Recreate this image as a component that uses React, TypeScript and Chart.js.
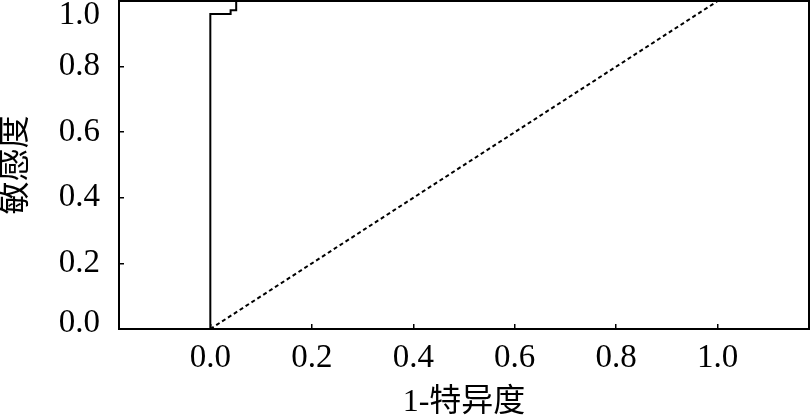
import React, { useEffect, useRef } from "react";
import { Chart, registerables } from "chart.js";

Chart.register(...registerables);

const rocFpr = [0, 0, 0.04, 0.04, 0.051, 0.051, 1];
const rocTpr = [0, 0.96, 0.96, 0.972, 0.972, 1, 1];
const refFpr = [0, 1];
const refTpr = [0, 1];
const xTicks = [0, 0.2, 0.4, 0.6, 0.8, 1.0];
const yTicks = [0, 0.2, 0.4, 0.6, 0.8, 1.0];
const xTitle = "1-特异度";
const yTitle = "敏感度";

const SERIF = "'Liberation Serif', 'Times New Roman', 'Noto Sans CJK SC', serif";

const framePlugin = {
  id: "frame",
  afterDraw(chart: any) {
    const { ctx, chartArea } = chart;
    ctx.save();
    ctx.strokeStyle = "#000";
    ctx.lineWidth = 2;
    ctx.strokeRect(chartArea.left, chartArea.top, chartArea.right - chartArea.left, chartArea.bottom - chartArea.top);
    ctx.restore();
  },
};

export default function App() {
  const ref = useRef<HTMLCanvasElement>(null);
  useEffect(() => {
    if (!ref.current) return;
    const chart = new Chart(ref.current, {
      type: "scatter",
      data: {
        datasets: [
          {
            data: rocFpr.map((x, i) => ({ x, y: rocTpr[i] })),
            showLine: true,
            borderColor: "#000",
            borderWidth: 2,
            pointRadius: 0,
            fill: false,
          },
          {
            data: refFpr.map((x, i) => ({ x, y: refTpr[i] })),
            showLine: true,
            borderColor: "#000",
            borderWidth: 2,
            borderDash: [4, 3],
            pointRadius: 0,
            fill: false,
          },
        ],
      },
      options: {
        responsive: false,
        animation: false,
        devicePixelRatio: 1,
        layout: { padding: { top: 1, right: 2, left: 0, bottom: 0 } },
        plugins: { legend: { display: false }, tooltip: { enabled: false } },
        scales: {
          x: {
            type: "linear",
            min: -0.18,
            max: 1.18,
            afterBuildTicks: (s: any) => {
              s.ticks = xTicks.map((v) => ({ value: v }));
            },
            afterFit: (s: any) => {
              s.height = 90;
              s.paddingLeft = 0;
              s.paddingRight = 0;
            },
            grid: { drawOnChartArea: false, drawTicks: true, tickLength: -5, color: "#000", lineWidth: 1.5 },
            border: { display: true, color: "#000", width: 2 },
            ticks: {
              color: "#000",
              padding: 15,
              maxRotation: 0,
              autoSkip: false,
              font: { family: SERIF, size: 33 },
              callback: (v: any) => Number(v).toFixed(1),
            },
            title: {
              display: true,
              text: xTitle,
              color: "#000",
              padding: 0,
              font: { family: SERIF, size: 32, lineHeight: 1 },
            },
          },
          y: {
            type: "linear",
            min: 0,
            max: 1,
            afterBuildTicks: (s: any) => {
              s.ticks = yTicks.map((v) => ({ value: v }));
            },
            afterFit: (s: any) => {
              s.width = 119;
              s.paddingTop = 0;
              s.paddingBottom = 0;
            },
            grid: { drawOnChartArea: false, drawTicks: true, tickLength: -5, color: "#000", lineWidth: 1.5 },
            border: { display: true, color: "#000", width: 2 },
            ticks: {
              color: "#000",
              padding: 24,
              autoSkip: false,
              font: (c: any) => {
                const v = c.tick ? c.tick.value : 0.5;
                const lh = v === 1 ? "28px" : v === 0 ? "12px" : 1.2;
                return { family: SERIF, size: 33, lineHeight: lh };
              },
              callback: (v: any) => {
                const n = Number(v);
                if (n === 1) return ["", "1.0"];
                if (n === 0) return ["0.0", ""];
                return n.toFixed(1);
              },
            },
            title: {
              display: true,
              text: yTitle,
              color: "#000",
              padding: 0,
              font: { family: SERIF, size: 33, lineHeight: 1 },
            },
          },
        },
      },
      plugins: [framePlugin],
    } as any);
    return () => chart.destroy();
  }, []);
  return (
    <div style={{ position: "absolute", left: 0, top: 0, width: 811, height: 419, background: "#fff" }}>
      <canvas ref={ref} width={811} height={419} style={{ width: 811, height: 419 }} />
    </div>
  );
}
